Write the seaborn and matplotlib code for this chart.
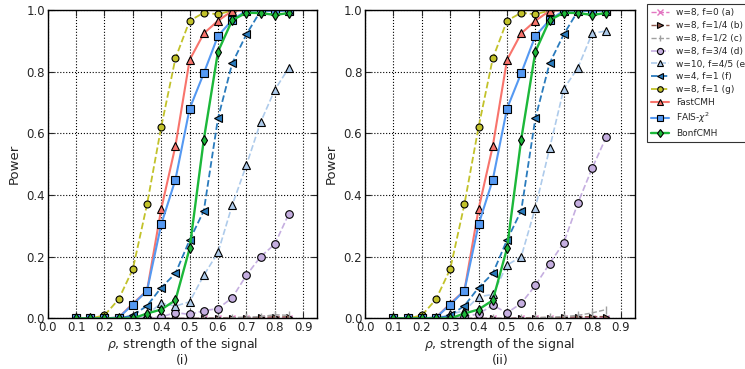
import numpy as np
import pandas as pd
import matplotlib
matplotlib.use("Agg")
import matplotlib.pyplot as plt
import seaborn as sns

sns.set_style("white")
plt.rcParams['font.family'] = ['DejaVu Sans']
plt.rcParams['mathtext.fontset'] = 'dejavusans'

rho = [0.10, 0.15, 0.20, 0.25, 0.30, 0.35, 0.40, 0.45, 0.50, 0.55, 0.60, 0.65, 0.70, 0.75, 0.80, 0.85]

# panel (i)
a_i = [0, 0, 0, 0, 0, 0, 0, 0, 0, 0, 0, 0.001, 0.001, 0.002, 0.002, 0.002]
b_i = [0, 0, 0, 0, 0, 0, 0, 0, 0, 0, 0.002, 0.003, 0.003, 0.004, 0.005, 0.005]
c_i = [0, 0, 0, 0, 0, 0, 0, 0, 0, 0, 0, 0.002, 0.004, 0.006, 0.012, 0.010]
d_i = [0, 0, 0, 0, 0, 0.002, 0.005, 0.019, 0.013, 0.025, 0.032, 0.067, 0.140, 0.200, 0.241, 0.340]
e_i = [0, 0, 0, 0, 0.003, 0.012, 0.050, 0.040, 0.054, 0.140, 0.214, 0.367, 0.497, 0.636, 0.741, 0.813]

# panel (ii)
a_ii = [0, 0, 0, 0, 0, 0, 0, 0, 0, 0, 0, 0.001, 0.002, 0.002, 0.003, 0.002]
b_ii = [0, 0, 0, 0, 0, 0, 0, 0, 0, 0.002, 0.003, 0.003, 0.004, 0.005, 0.006, 0.006]
c_ii = [0, 0, 0, 0, 0, 0, 0, 0, 0, 0, 0.002, 0.004, 0.006, 0.010, 0.018, 0.029]
d_ii = [0, 0, 0, 0, 0, 0.005, 0.015, 0.043, 0.018, 0.049, 0.107, 0.178, 0.245, 0.375, 0.487, 0.589]
e_ii = [0, 0, 0, 0, 0.014, 0.025, 0.070, 0.078, 0.173, 0.200, 0.359, 0.551, 0.744, 0.813, 0.924, 0.932]

# shared series (same in both panels)
f_vals = [0, 0, 0, 0, 0.010, 0.041, 0.100, 0.146, 0.254, 0.349, 0.649, 0.827, 0.921, 0.997, 0.998, 0.998]
g_vals = [0, 0, 0.010, 0.062, 0.160, 0.370, 0.621, 0.843, 0.965, 0.991, 0.986, 0.998, 1.0, 1.0, 1.0, 1.0]
fast_vals = [0, 0, 0, 0.003, 0.048, 0.090, 0.355, 0.559, 0.838, 0.924, 0.965, 0.997, 1.0, 1.0, 1.0, 1.0]
fais_vals = [0, 0, 0, 0.003, 0.045, 0.090, 0.305, 0.450, 0.680, 0.795, 0.916, 0.967, 0.998, 0.998, 0.997, 0.998]
bonf_vals = [0, 0, 0, 0, 0, 0.016, 0.029, 0.059, 0.227, 0.580, 0.865, 0.967, 0.991, 0.990, 0.984, 0.990]

labels = ['w=8, f=0 (a)', 'w=8, f=1/4 (b)', 'w=8, f=1/2 (c)', 'w=8, f=3/4 (d)',
          'w=10, f=4/5 (e)', 'w=4, f=1 (f)', 'w=8, f=1 (g)', 'FastCMH',
          r'FAIS-$\chi^2$', 'BonfCMH']
panel_titles = ['(i)', '(ii)']
xticks = [0.0, 0.1, 0.2, 0.3, 0.4, 0.5, 0.6, 0.7, 0.8, 0.9]
yticks = [0.0, 0.2, 0.4, 0.6, 0.8, 1.0]

styles = [
    dict(color='#e377c2', marker='x', ls='--', lw=1.0, ms=5, mfc='#e377c2', mec='#e377c2'),
    dict(color='#8c564b', marker='>', ls='--', lw=1.0, ms=5, mfc='#8c564b', mec='k'),
    dict(color='#a0a0a0', marker='|', ls='--', lw=1.0, ms=6, mfc='#a0a0a0', mec='#a0a0a0'),
    dict(color='#c5aee0', marker='o', ls='--', lw=1.2, ms=5.5, mfc='#c5aee0', mec='k'),
    dict(color='#aecbeb', marker='^', ls='--', lw=1.2, ms=5.5, mfc='#aecbeb', mec='k'),
    dict(color='#2a7bbd', marker='<', ls='--', lw=1.3, ms=5.5, mfc='#2a7bbd', mec='k'),
    dict(color='#c2c22a', marker='o', ls='--', lw=1.3, ms=5, mfc='#c2c22a', mec='k'),
    dict(color='#f8746c', marker='^', ls='-', lw=1.5, ms=5.5, mfc='#f8746c', mec='k'),
    dict(color='#5599f2', marker='s', ls='-', lw=1.5, ms=5.5, mfc='#5599f2', mec='k'),
    dict(color='#1cb83a', marker='d', ls='-', lw=1.7, ms=5.5, mfc='#1cb83a', mec='k'),
]

panels = [
    [a_i, b_i, c_i, d_i, e_i, f_vals, g_vals, fast_vals, fais_vals, bonf_vals],
    [a_ii, b_ii, c_ii, d_ii, e_ii, f_vals, g_vals, fast_vals, fais_vals, bonf_vals],
]

fig = plt.figure(figsize=(7.45, 3.69), dpi=100)
ax_l = fig.add_axes([0.064, 0.137, 0.362, 0.836])
ax_r = fig.add_axes([0.490, 0.137, 0.362, 0.836])
axes = [ax_l, ax_r]

for ax, series, ttl in zip(axes, panels, panel_titles):
    for vals, lab, st in zip(series, labels, styles):
        df = pd.DataFrame({'rho': rho, 'power': vals})
        sns.lineplot(data=df, x='rho', y='power', ax=ax, label=lab,
                     color=st['color'], linestyle=st['ls'], linewidth=st['lw'],
                     marker=st['marker'], markersize=st['ms'],
                     markerfacecolor=st['mfc'], markeredgecolor=st['mec'],
                     markeredgewidth=0.8 if st['marker'] not in ('x', '|') else 1.0,
                     legend=True)
    ax.set_xlim(0.0, 0.95)
    ax.set_ylim(0.0, 1.0)
    ax.set_xticks(xticks)
    ax.set_yticks(yticks)
    ax.set_xticklabels([f'{t:.1f}' for t in xticks], fontsize=8.5)
    ax.set_yticklabels([f'{t:.1f}' for t in yticks], fontsize=8.5)
    ax.grid(True, color='k', linestyle=':', linewidth=0.8)
    ax.tick_params(direction='in', length=4, width=0.8, top=True, right=True,
                   bottom=True, left=True, pad=2)
    for sp in ax.spines.values():
        sp.set_color('k')
        sp.set_linewidth(1.0)
    ax.set_ylabel('Power', fontsize=9.5, labelpad=4)
    ax.set_xlabel(r'$\rho$, strength of the signal', fontsize=9, labelpad=1)
    ax.text(0.5, -0.136, ttl, transform=ax.transAxes, ha='center', va='center', fontsize=9)
    ax.get_legend().remove()

handles, labs = ax_l.get_legend_handles_labels()
leg = fig.legend(handles, labs, loc='upper left', bbox_to_anchor=(0.869, 0.988),
                 fontsize=6.5, frameon=True, fancybox=False, edgecolor='k',
                 handlelength=2.0, labelspacing=0.43, borderpad=0.4, borderaxespad=0,
                 markerscale=0.8)
leg.get_frame().set_linewidth(0.8)

fig.savefig('out.png', dpi=100)
